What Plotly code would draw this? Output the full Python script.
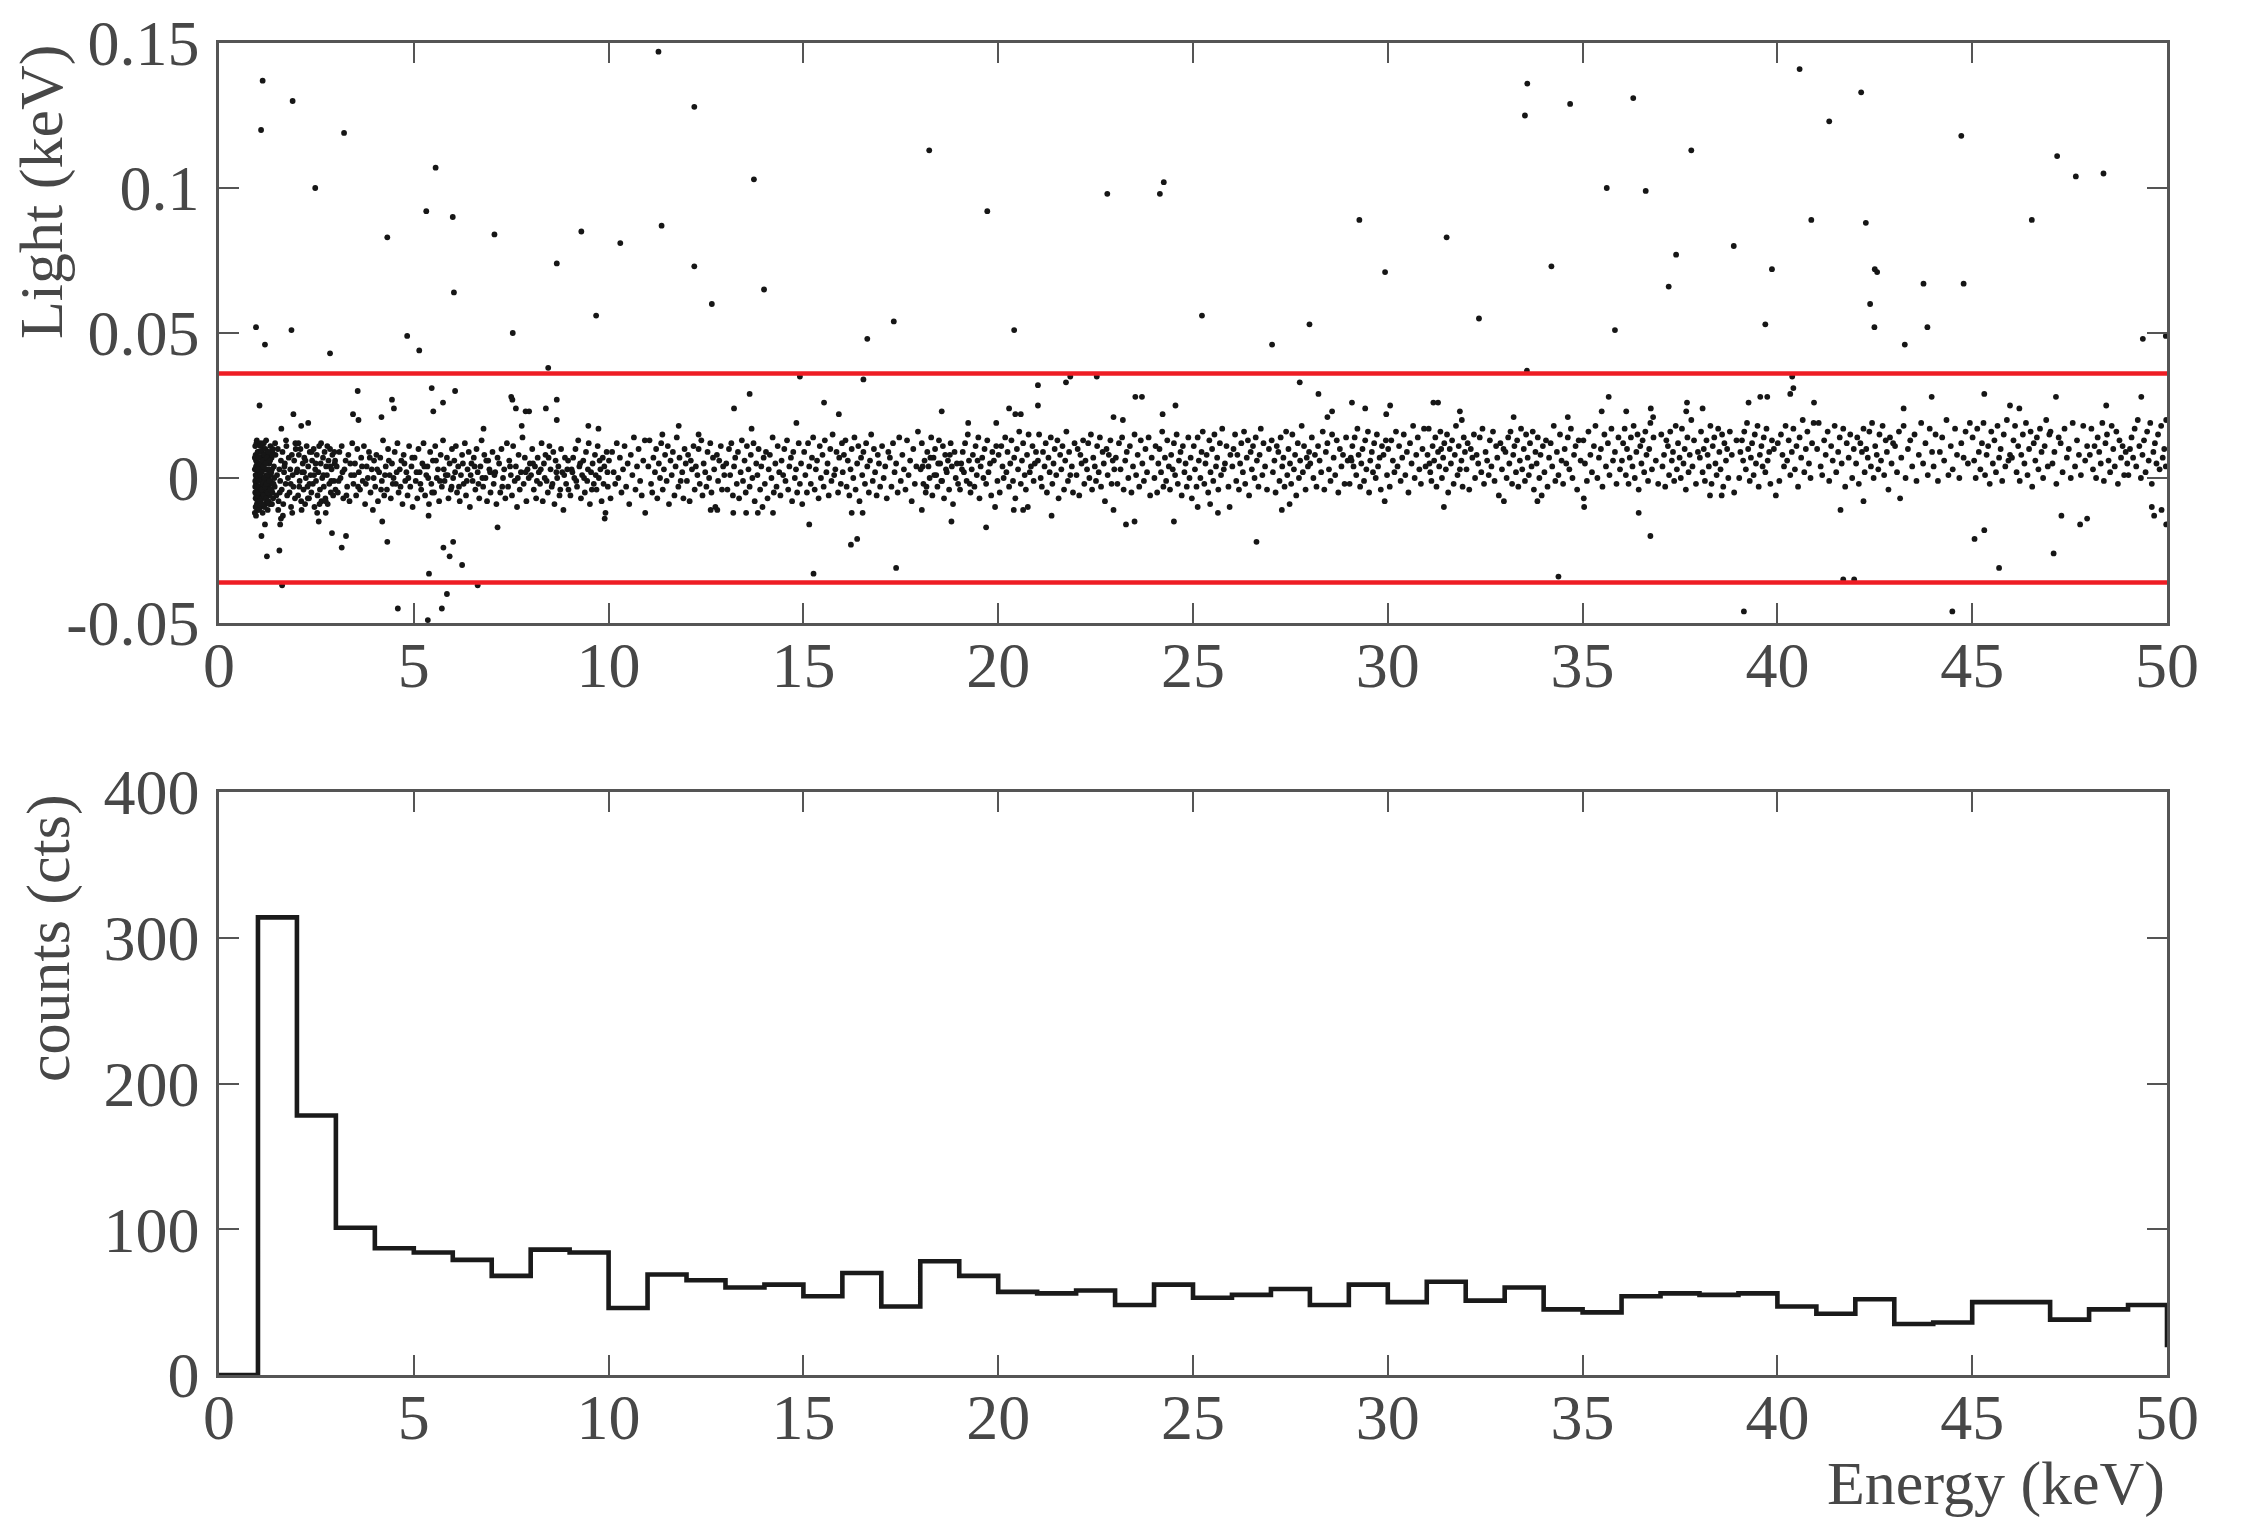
import plotly.graph_objects as go

# ---------------- histogram (counts per 1 keV bin) ----------------
energy_bin_edges = [0, 1, 2, 3, 4, 5, 6, 7, 8, 9, 10, 11, 12, 13, 14, 15, 16, 17, 18, 19, 20,
                    21, 22, 23, 24, 25, 26, 27, 28, 29, 30, 31, 32, 33, 34, 35, 36, 37, 38, 39, 40,
                    41, 42, 43, 44, 45, 46, 47, 48, 49, 50]
counts = [0, 314, 178, 101, 87, 84, 79, 68, 86, 84,
          46, 69, 65, 60, 62, 54, 70, 47, 78, 68,
          57, 56, 58, 48, 62, 53, 55, 59, 48, 62,
          50, 64, 51, 60, 45, 43, 54, 56, 55, 56,
          47, 42, 52, 35, 36, 50, 50, 38, 45, 48]
counts_tail = 19   # value plotted at the 50 keV edge

light_cut_keV = 0.036

x_ticks = [0, 5, 10, 15, 20, 25, 30, 35, 40, 45, 50]
light_ticks = [-0.05, 0, 0.05, 0.1, 0.15]
light_tick_text = ["-0.05", "0", "0.05", "0.1", "0.15"]
count_ticks = [0, 100, 200, 300, 400]

# ---------------- scatter: (energy keV, light eV) ----------------
band_01_03 = [
    (0.92,3),(0.93,-5),(0.94,8),(0.95,-2),(0.93,11),(0.96,0),(0.97,-9),(0.92,-12),(0.95,6),(0.98,-4),(0.99,2),(0.94,-7),(0.96,12),(0.97,4),(0.98,-11),(0.93,-1),(0.99,9),(0.95,-13),(0.96,-6),(0.94,1),(0.97,13),(0.92,7),(0.98,5),(0.99,-8),(0.93,-3),(0.95,4),(0.97,-3),(0.99,-6),(0.94,-10),
    (1.00,1),(1.01,-6),(1.02,9),(1.03,-3),(1.04,5),(1.05,-10),(1.06,2),(1.07,12),(1.08,-7),(1.09,0),
    (1.10,7),(1.11,-2),(1.12,-12),(1.13,4),(1.14,10),(1.15,-5),(1.16,-1),(1.17,8),(1.18,-9),(1.19,3),
    (1.20,-4),(1.21,13),(1.22,1),(1.23,-8),(1.24,6),(1.25,-11),(1.26,0),(1.27,9),(1.28,-3),(1.29,5),
    (1.30,-6),(1.31,2),(1.32,11),(1.33,-1),(1.34,-9),(1.35,7),(1.36,3),(1.37,-5),(1.38,10),(1.39,-2),
    (1.00,-3),(1.02,4),(1.04,-8),(1.06,11),(1.08,3),(1.10,-5),(1.12,6),(1.14,-1),(1.16,-10),(1.18,8),
    (1.01,7),(1.03,-11),(1.05,2),(1.07,-4),(1.09,9),(1.11,-7),(1.13,0),(1.15,12),(1.17,-3),(1.19,5),
    (1.21,-6),(1.23,3),(1.25,8),(1.27,-2),(1.29,-9),(1.31,6),(1.33,1),(1.35,-4),(1.37,9),(1.39,-7),
    (1.41,4),(1.43,-3),(1.45,8),(1.47,-6),(1.49,1),(1.51,10),(1.53,-8),(1.55,3),(1.57,-1),(1.59,6),
    (1.61,-4),(1.63,9),(1.65,-9),(1.67,2),(1.69,5),(1.71,-2),(1.73,11),(1.75,-6),(1.77,0),(1.79,7),
    (1.81,-5),(1.83,3),(1.85,-10),(1.87,8),(1.89,1),(1.91,-3),(1.93,6),(1.95,-7),(1.97,10),(1.99,2),
    (1.44,12),(1.52,-11),(1.64,-13),(1.72,13),(1.88,-12),(1.96,12),(1.42,0),(1.56,-5),(1.68,4),(1.84,-2),
    (1.00,-5),(1.01,3),(1.02,-1),(1.03,7),(1.04,-3),(1.05,5),(1.06,-8),(1.07,1),(1.08,9),(1.09,-4),
    (1.10,2),(1.11,-9),(1.12,6),(1.13,-2),(1.14,4),(1.15,-6),(1.16,8),(1.17,0),(1.18,-3),(1.19,10),
    (1.20,5),(1.21,-7),(1.22,-2),(1.23,7),(1.24,1),(1.25,-5),(1.26,9),(1.27,-8),(1.28,3),(1.29,-1),
    (1.30,6),(1.32,-4),(1.34,2),(1.36,-9),(1.38,8),(1.40,-2),
    (2.01,3),(2.03,-6),(2.05,8),(2.07,-1),(2.09,10),(2.11,-8),(2.13,2),(2.15,5),(2.17,-4),(2.19,7),
    (2.21,-9),(2.23,0),(2.25,11),(2.27,-3),(2.29,4),(2.31,-7),(2.33,9),(2.35,1),(2.37,-5),(2.39,6),
    (2.41,-2),(2.43,10),(2.45,-10),(2.47,3),(2.49,-1),(2.51,8),(2.53,-6),(2.55,2),(2.57,11),(2.59,-4),
    (2.61,5),(2.63,-8),(2.65,0),(2.67,7),(2.69,-3),(2.71,9),(2.73,-7),(2.75,4),(2.77,1),(2.79,-9),
    (2.81,6),(2.83,-2),(2.85,10),(2.87,-5),(2.89,3),(2.91,8),(2.93,-6),(2.95,-1),(2.97,5),(2.99,-4),
    (2.04,12),(2.12,-11),(2.22,6),(2.32,-2),(2.44,1),(2.52,-12),(2.62,12),(2.74,-8),(2.86,4),(2.96,9),
    (2.06,-3),(2.18,2),(2.28,-7),(2.38,9),(2.48,5),(2.58,-9),(2.68,1),(2.78,11),(2.88,-1),(2.98,6),
]

band_03_10 = [
    (3.02,4),(3.05,-5),(3.09,9),(3.12,0),(3.15,11),(3.19,-7),(3.22,3),(3.25,6),(3.29,-3),(3.32,8),(3.35,-8),(3.39,1),(3.42,12),(3.45,-2),(3.49,5),(3.52,-6),(3.55,10),(3.59,2),(3.62,-4),(3.65,7),(3.69,-1),(3.72,11),(3.75,-9),(3.79,4),(3.82,0),(3.85,9),(3.89,-5),(3.92,3),(3.95,-11),(3.98,6),(3.07,-1),(3.17,2),(3.27,-6),(3.37,5),(3.47,1),(3.57,-3),(3.67,4),(3.77,-2),(3.87,7),(3.97,0),
    (4.01,-3),(4.04,8),(4.08,-8),(4.11,2),(4.14,7),(4.18,-1),(4.21,13),(4.24,-6),(4.28,4),(4.31,-4),(4.34,10),(4.38,1),(4.41,-7),(4.44,5),(4.48,0),(4.51,9),(4.54,-2),(4.58,12),(4.61,-5),(4.64,3),(4.68,6),(4.71,-9),(4.74,8),(4.78,-1),(4.81,2),(4.84,-6),(4.88,11),(4.91,-3),(4.94,4),(4.97,-10),(4.06,3),(4.16,-4),(4.26,1),(4.36,6),(4.46,-2),(4.56,2),(4.66,-3),(4.76,5),(4.86,0),(4.96,7),
    (5.02,7),(5.05,-1),(5.09,-7),(5.12,10),(5.15,2),(5.19,-4),(5.22,5),(5.25,12),(5.29,-6),(5.32,1),(5.35,4),(5.39,-9),(5.42,9),(5.45,-2),(5.49,6),(5.52,-5),(5.55,11),(5.59,0),(5.62,3),(5.65,-8),(5.69,8),(5.72,-3),(5.75,13),(5.79,-1),(5.82,1),(5.85,7),(5.89,-7),(5.92,5),(5.95,-4),(5.98,10),(5.07,2),(5.17,-2),(5.27,4),(5.37,0),(5.47,-5),(5.57,6),(5.67,-1),(5.77,3),(5.87,1),(5.97,-3),
    (6.01,0),(6.04,6),(6.08,11),(6.11,-5),(6.14,4),(6.18,-8),(6.21,1),(6.24,8),(6.28,-2),(6.31,12),(6.34,-6),(6.38,3),(6.41,9),(6.44,-10),(6.48,5),(6.51,-1),(6.54,7),(6.58,-4),(6.61,10),(6.64,2),(6.68,-7),(6.71,4),(6.74,13),(6.78,-3),(6.81,8),(6.84,0),(6.88,-8),(6.91,6),(6.94,3),(6.97,-5),(6.06,2),(6.16,-3),(6.26,5),(6.36,-1),(6.46,1),(6.56,4),(6.66,-2),(6.76,0),(6.86,6),(6.96,2),
    (7.02,9),(7.05,-2),(7.09,2),(7.12,-9),(7.15,7),(7.19,5),(7.22,-5),(7.25,10),(7.29,0),(7.32,3),(7.35,-7),(7.39,12),(7.42,-3),(7.45,6),(7.49,1),(7.52,-6),(7.55,11),(7.59,-1),(7.62,4),(7.65,-10),(7.69,8),(7.72,-4),(7.75,2),(7.79,14),(7.82,-2),(7.85,7),(7.89,-8),(7.92,3),(7.95,0),(7.98,5),(7.07,1),(7.27,-3),(7.47,4),(7.67,0),(7.87,2),
    (8.01,1),(8.04,10),(8.08,-4),(8.11,4),(8.14,-7),(8.18,7),(8.21,2),(8.24,-2),(8.28,12),(8.31,-8),(8.34,5),(8.38,8),(8.41,-1),(8.44,-5),(8.48,11),(8.51,3),(8.54,-3),(8.58,9),(8.61,-9),(8.64,6),(8.68,0),(8.71,4),(8.74,-6),(8.78,10),(8.81,2),(8.84,-11),(8.88,7),(8.91,-2),(8.94,3),(8.97,-4),(8.06,5),(8.16,-1),(8.26,3),(8.36,0),(8.46,7),(8.56,-2),(8.66,2),(8.76,-4),(8.86,1),(8.96,6),
    (9.02,-6),(9.05,3),(9.09,7),(9.12,0),(9.15,10),(9.19,-3),(9.22,13),(9.25,4),(9.29,-7),(9.32,1),(9.35,6),(9.39,-5),(9.42,9),(9.45,-1),(9.49,12),(9.52,-9),(9.55,2),(9.59,5),(9.62,-2),(9.65,8),(9.69,-4),(9.72,11),(9.75,0),(9.79,3),(9.82,-8),(9.85,7),(9.89,4),(9.92,-12),(9.95,9),(9.98,-3),(9.07,2),(9.17,-1),(9.27,5),(9.37,0),(9.47,3),(9.57,-4),(9.67,1),(9.77,6),(9.87,-2),(9.97,2),
]

band_10_20 = [
    (10.01,6),(10.05,-7),(10.09,9),(10.13,2),(10.17,-2),(10.21,12),(10.25,0),(10.29,7),(10.33,-5),(10.37,3),(10.41,11),(10.45,-3),(10.49,5),(10.53,-9),(10.57,8),(10.61,1),(10.65,14),(10.69,-4),(10.73,4),(10.77,10),(10.81,-1),(10.85,-6),(10.89,6),(10.93,13),
    (11.02,4),(11.05,13),(11.09,-2),(11.12,-5),(11.15,7),(11.19,2),(11.22,10),(11.25,-7),(11.29,5),(11.32,0),(11.35,12),(11.39,-4),(11.42,3),(11.45,8),(11.49,-1),(11.52,11),(11.55,-9),(11.59,6),(11.62,1),(11.65,9),(11.69,-6),(11.72,4),(11.75,14),(11.79,-3),(11.82,7),(11.85,-1),(11.89,2),(11.92,-7),(11.95,10),(11.98,5),
    (12.01,-1),(12.04,8),(12.08,-8),(12.11,6),(12.14,3),(12.18,11),(12.21,-4),(12.24,4),(12.28,1),(12.31,10),(12.34,-2),(12.38,13),(12.41,-6),(12.44,5),(12.48,2),(12.51,-3),(12.54,9),(12.58,0),(12.61,12),(12.64,-5),(12.68,7),(12.71,3),(12.74,-10),(12.78,8),(12.81,-1),(12.84,6),(12.88,11),(12.91,-4),(12.94,4),(12.97,1),
    (13.02,5),(13.05,-4),(13.09,10),(13.12,1),(13.15,12),(13.19,-6),(13.22,4),(13.25,7),(13.29,-2),(13.32,9),(13.35,-7),(13.39,2),(13.42,13),(13.45,-1),(13.49,6),(13.52,-5),(13.55,11),(13.59,3),(13.62,-3),(13.65,8),(13.69,0),(13.72,12),(13.75,-8),(13.79,5),(13.82,1),(13.85,10),(13.89,-4),(13.92,4),(13.95,-10),(13.98,7),
    (14.01,-2),(14.04,9),(14.08,-7),(14.11,3),(14.14,8),(14.18,0),(14.21,14),(14.24,-5),(14.28,5),(14.31,-3),(14.34,11),(14.38,2),(14.41,-6),(14.44,6),(14.48,1),(14.51,10),(14.54,-1),(14.58,13),(14.61,-4),(14.64,4),(14.68,7),(14.71,-8),(14.74,9),(14.78,0),(14.81,3),(14.84,-5),(14.88,12),(14.91,-2),(14.94,5),(14.97,-9),
    (15.02,9),(15.05,1),(15.09,-5),(15.12,12),(15.15,4),(15.19,-2),(15.22,7),(15.25,14),(15.29,-4),(15.32,3),(15.35,6),(15.39,-7),(15.42,11),(15.45,0),(15.49,8),(15.52,-3),(15.55,13),(15.59,2),(15.62,5),(15.65,-6),(15.69,10),(15.72,-1),(15.75,15),(15.79,1),(15.82,3),(15.85,9),(15.89,-5),(15.92,7),(15.96,-2),(15.99,12),
    (16.01,2),(16.04,8),(16.08,13),(16.11,-3),(16.14,6),(16.18,-6),(16.21,3),(16.24,10),(16.28,0),(16.31,14),(16.34,-4),(16.38,5),(16.41,11),(16.44,-8),(16.48,7),(16.51,1),(16.54,9),(16.58,-2),(16.61,12),(16.64,4),(16.68,-5),(16.71,6),(16.74,15),(16.78,-1),(16.81,10),(16.84,2),(16.88,-6),(16.91,8),(16.94,5),(16.97,-3),
    (17.02,11),(17.06,0),(17.10,4),(17.14,-7),(17.18,9),(17.22,7),(17.26,-3),(17.30,12),(17.34,2),(17.38,5),(17.42,-5),(17.46,14),(17.50,-1),(17.54,8),(17.58,3),(17.62,-4),(17.66,13),(17.70,1),(17.74,6),(17.78,-8),(17.82,10),(17.86,-2),(17.90,4),(17.94,16),
    (18.01,3),(18.04,12),(18.08,-2),(18.11,6),(18.14,-5),(18.18,9),(18.21,4),(18.24,0),(18.28,14),(18.31,-6),(18.34,7),(18.38,10),(18.41,1),(18.44,-3),(18.48,13),(18.51,5),(18.54,-1),(18.58,11),(18.61,-7),(18.64,8),(18.68,2),(18.71,6),(18.74,-4),(18.78,12),(18.81,4),(18.84,-9),(18.88,9),(18.91,0),(18.94,5),(18.97,-2),(18.06,4),(18.16,-3),(18.26,7),(18.36,1),(18.46,5),(18.56,-1),(18.66,3),(18.76,8),
    (19.02,-4),(19.05,5),(19.09,9),(19.12,2),(19.15,12),(19.19,-1),(19.22,15),(19.25,6),(19.29,-5),(19.32,3),(19.35,8),(19.39,-3),(19.42,11),(19.45,1),(19.49,14),(19.52,-7),(19.55,4),(19.59,7),(19.62,0),(19.65,10),(19.69,-2),(19.72,13),(19.75,2),(19.79,5),(19.82,-6),(19.85,9),(19.89,6),(19.92,-10),(19.95,11),(19.98,-1),(19.07,3),(19.27,-2),(19.47,6),
]

band_20_30 = [
    (20.01,8),(20.04,-5),(20.08,11),(20.11,4),(20.14,0),(20.18,14),(20.21,2),(20.24,9),(20.28,-3),(20.31,5),(20.34,13),(20.38,-1),(20.41,7),(20.44,-7),(20.48,10),(20.51,3),(20.54,16),(20.58,-2),(20.61,6),(20.64,12),(20.68,1),(20.71,-4),(20.74,8),(20.78,15),(20.81,2),(20.84,4),(20.88,11),(20.91,-1),(20.94,5),(20.97,9),
    (21.02,6),(21.05,15),(21.09,0),(21.12,-3),(21.15,9),(21.19,4),(21.22,12),(21.25,-5),(21.29,7),(21.32,2),(21.35,14),(21.39,-2),(21.42,5),(21.45,10),(21.49,1),(21.52,13),(21.55,-7),(21.59,8),(21.62,3),(21.65,11),(21.69,-4),(21.72,6),(21.75,16),(21.79,-1),(21.82,9),(21.85,1),(21.89,4),(21.92,-5),(21.96,12),
    (22.01,1),(22.04,10),(22.08,-6),(22.11,8),(22.14,5),(22.18,13),(22.21,-2),(22.24,6),(22.28,3),(22.31,12),(22.34,0),(22.38,15),(22.41,-4),(22.44,7),(22.48,4),(22.51,-1),(22.54,11),(22.58,2),(22.61,14),(22.64,-3),(22.68,9),(22.71,5),(22.74,-8),(22.78,10),(22.81,1),(22.84,8),(22.88,13),(22.91,-2),(22.94,6),(22.98,3),
    (23.02,7),(23.06,-2),(23.10,12),(23.14,3),(23.18,14),(23.22,-4),(23.26,6),(23.30,9),(23.34,0),(23.38,11),(23.42,-5),(23.46,4),(23.50,15),(23.54,1),(23.58,8),(23.62,-3),(23.66,13),(23.70,5),(23.74,-1),(23.78,10),(23.82,2),(23.86,14),(23.90,-6),(23.94,7),
    (24.01,0),(24.04,11),(24.08,-5),(24.11,5),(24.14,10),(24.18,2),(24.21,16),(24.24,-3),(24.28,7),(24.31,-1),(24.34,13),(24.38,4),(24.41,-4),(24.44,8),(24.48,3),(24.51,12),(24.54,1),(24.58,15),(24.61,-2),(24.64,6),(24.68,9),(24.71,-6),(24.74,11),(24.78,2),(24.81,5),(24.84,-3),(24.88,14),(24.91,0),(24.94,7),(24.97,-7),
    (25.02,11),(25.05,3),(25.09,-3),(25.12,14),(25.15,6),(25.19,0),(25.22,9),(25.25,16),(25.29,-2),(25.32,5),(25.35,8),(25.39,-5),(25.42,13),(25.45,2),(25.49,10),(25.52,-1),(25.55,15),(25.59,4),(25.62,7),(25.65,-4),(25.69,12),(25.72,1),(25.75,17),(25.79,3),(25.82,5),(25.86,11),(25.91,-3),(25.96,8),
    (26.01,4),(26.04,10),(26.08,15),(26.11,-1),(26.14,8),(26.18,-4),(26.21,5),(26.24,12),(26.28,2),(26.31,16),(26.34,-2),(26.38,7),(26.41,13),(26.44,-6),(26.48,9),(26.51,3),(26.54,11),(26.58,0),(26.61,14),(26.64,6),(26.68,-3),(26.71,8),(26.74,17),(26.78,1),(26.81,12),(26.85,4),(26.90,-4),(26.95,10),
    (27.02,13),(27.05,2),(27.09,6),(27.12,-5),(27.15,11),(27.19,9),(27.22,-1),(27.25,14),(27.29,4),(27.32,7),(27.35,-3),(27.39,16),(27.42,1),(27.45,10),(27.49,5),(27.52,-2),(27.55,15),(27.59,3),(27.62,8),(27.65,-6),(27.69,12),(27.72,0),(27.75,6),(27.79,18),(27.82,2),(27.85,11),(27.89,-4),(27.92,7),(27.95,4),(27.98,9),
    (28.01,5),(28.05,14),(28.09,0),(28.13,8),(28.17,-3),(28.21,11),(28.25,6),(28.29,2),(28.33,16),(28.37,-4),(28.41,9),(28.45,12),(28.49,3),(28.53,-1),(28.57,15),(28.61,7),(28.65,1),(28.69,13),(28.73,-5),(28.77,10),(28.81,4),(28.85,8),(28.89,-2),(28.93,14),(28.97,6),
    (29.02,-2),(29.05,7),(29.09,11),(29.12,4),(29.15,14),(29.19,1),(29.22,17),(29.25,8),(29.29,-3),(29.32,5),(29.35,10),(29.39,-1),(29.42,13),(29.45,3),(29.49,16),(29.52,-5),(29.55,6),(29.59,9),(29.62,2),(29.65,12),(29.69,0),(29.72,15),(29.75,4),(29.79,7),(29.82,-4),(29.85,11),(29.89,8),(29.92,-8),(29.95,13),(29.98,1),(29.07,6),
]

band_30_40 = [
    (30.01,10),(30.05,-3),(30.09,13),(30.13,6),(30.17,2),(30.21,16),(30.25,4),(30.29,11),(30.33,-1),(30.37,7),(30.41,15),(30.45,1),(30.49,9),(30.53,-5),(30.57,12),(30.61,5),(30.65,18),(30.69,0),(30.73,8),(30.77,14),(30.81,3),(30.85,-2),(30.89,10),(30.93,17),(30.97,4),
    (31.02,8),(31.05,17),(31.09,2),(31.12,-1),(31.15,11),(31.19,6),(31.22,14),(31.25,-3),(31.29,9),(31.32,4),(31.35,16),(31.39,0),(31.42,7),(31.45,12),(31.49,3),(31.52,15),(31.55,-5),(31.59,10),(31.62,5),(31.65,13),(31.69,-2),(31.72,8),(31.75,18),(31.79,1),(31.82,11),(31.85,3),(31.89,6),(31.92,-3),(31.95,14),(31.98,9),(31.07,5),(31.37,10),
    (32.02,3),(32.05,12),(32.09,-4),(32.13,10),(32.17,7),(32.21,15),(32.24,0),(32.28,8),(32.32,5),(32.36,14),(32.40,2),(32.43,17),(32.47,-2),(32.51,9),(32.55,6),(32.59,1),(32.62,13),(32.66,4),(32.70,16),(32.74,-1),(32.78,11),(32.81,7),(32.85,-6),(32.89,12),(32.93,3),(32.97,10),
    (33.02,9),(33.05,0),(33.09,14),(33.12,5),(33.15,16),(33.19,-2),(33.22,8),(33.25,11),(33.29,2),(33.32,13),(33.35,-3),(33.39,6),(33.42,17),(33.45,3),(33.49,10),(33.52,-1),(33.55,15),(33.59,7),(33.62,1),(33.65,12),(33.69,4),(33.72,16),(33.75,-4),(33.79,9),(33.82,5),(33.85,14),(33.89,0),(33.92,8),(33.95,-6),(33.98,11),
    (34.02,2),(34.06,13),(34.10,-3),(34.14,7),(34.18,12),(34.22,4),(34.26,18),(34.30,-1),(34.34,9),(34.38,1),(34.42,15),(34.46,6),(34.50,-2),(34.54,10),(34.58,5),(34.62,14),(34.66,3),(34.70,17),(34.74,0),(34.78,8),(34.82,11),(34.86,-4),(34.90,13),(34.95,6),
    (35.02,13),(35.06,5),(35.11,-1),(35.15,16),(35.20,8),(35.24,2),(35.29,11),(35.33,18),(35.38,0),(35.42,7),(35.47,10),(35.51,-3),(35.56,15),(35.60,4),(35.65,12),(35.69,1),(35.74,17),(35.78,6),(35.83,9),(35.87,-2),(35.92,14),(35.96,3),
    (36.01,6),(36.04,12),(36.08,17),(36.11,1),(36.14,10),(36.18,-2),(36.21,7),(36.24,14),(36.28,4),(36.31,18),(36.34,0),(36.38,9),(36.41,15),(36.44,-4),(36.48,11),(36.51,5),(36.54,13),(36.58,2),(36.61,16),(36.64,8),(36.68,-1),(36.71,10),(36.74,19),(36.78,3),(36.82,14),(36.88,6),(36.94,-2),
    (37.02,15),(37.05,4),(37.09,8),(37.12,-3),(37.15,13),(37.19,11),(37.22,1),(37.25,16),(37.29,6),(37.32,9),(37.35,-1),(37.39,18),(37.42,3),(37.45,12),(37.49,7),(37.52,0),(37.55,17),(37.59,5),(37.62,10),(37.65,-4),(37.69,14),(37.72,2),(37.75,8),(37.79,20),(37.82,4),(37.86,13),(37.91,-2),(37.96,9),
    (38.01,7),(38.04,16),(38.08,2),(38.11,10),(38.14,-1),(38.18,13),(38.21,8),(38.24,4),(38.28,18),(38.31,-2),(38.34,11),(38.38,14),(38.41,5),(38.44,1),(38.48,17),(38.51,9),(38.54,3),(38.58,15),(38.61,-3),(38.64,12),(38.68,6),(38.71,10),(38.74,0),(38.78,16),(38.83,8),(38.89,-5),(38.95,13),
    (39.02,0),(39.05,9),(39.09,13),(39.12,6),(39.15,16),(39.19,3),(39.22,19),(39.25,10),(39.29,-1),(39.32,7),(39.35,12),(39.39,1),(39.42,15),(39.45,5),(39.49,18),(39.52,-3),(39.55,8),(39.59,11),(39.62,4),(39.65,14),(39.69,2),(39.72,17),(39.75,6),(39.79,9),(39.82,-2),(39.86,13),(39.91,10),(39.96,-6),
]

band_40_50 = [
    (40.01,12),(40.05,-1),(40.09,15),(40.13,8),(40.17,4),(40.21,18),(40.25,6),(40.29,13),(40.33,1),(40.37,9),(40.41,17),(40.45,3),(40.49,11),(40.53,-3),(40.57,14),(40.61,7),(40.65,20),(40.69,2),(40.73,10),(40.77,16),(40.81,5),(40.85,0),(40.89,12),(40.93,19),
    (41.02,10),(41.06,19),(41.11,4),(41.15,1),(41.20,13),(41.24,8),(41.29,16),(41.33,-1),(41.38,11),(41.42,6),(41.47,18),(41.51,2),(41.56,9),(41.60,14),(41.65,5),(41.69,17),(41.74,-3),(41.78,12),(41.83,7),(41.87,15),(41.92,0),(41.96,10),
    (42.02,5),(42.05,14),(42.09,-2),(42.13,12),(42.17,9),(42.21,17),(42.24,2),(42.28,10),(42.32,7),(42.36,16),(42.40,4),(42.43,19),(42.47,0),(42.51,11),(42.55,8),(42.59,3),(42.62,15),(42.66,6),(42.70,18),(42.74,1),(42.78,13),(42.81,9),(42.85,-4),(42.89,14),(42.93,5),(42.97,12),
    (43.02,11),(43.07,2),(43.12,16),(43.18,7),(43.24,18),(43.29,0),(43.35,10),(43.41,13),(43.46,4),(43.52,15),(43.57,-1),(43.63,8),(43.69,19),(43.74,5),(43.80,12),(43.86,1),(43.91,17),(43.97,9),
    (44.01,4),(44.06,15),(44.12,-1),(44.17,9),(44.23,14),(44.28,6),(44.34,20),(44.39,1),(44.45,11),(44.50,3),(44.56,17),(44.61,8),(44.67,0),(44.72,12),(44.78,7),(44.83,16),(44.89,5),(44.94,19),
    (45.01,14),(45.05,6),(45.09,0),(45.13,17),(45.17,9),(45.21,3),(45.25,12),(45.29,19),(45.33,1),(45.37,8),(45.41,11),(45.45,-2),(45.49,16),(45.53,5),(45.57,13),(45.61,2),(45.65,18),(45.69,7),(45.73,10),(45.77,-1),(45.81,15),(45.85,4),(45.89,20),(45.93,6),(45.97,8),
    (46.02,7),(46.06,13),(46.10,18),(46.14,2),(46.18,11),(46.22,-1),(46.26,8),(46.30,15),(46.34,5),(46.38,19),(46.42,1),(46.46,10),(46.50,16),(46.54,-3),(46.58,12),(46.62,6),(46.66,14),(46.70,3),(46.74,17),(46.78,9),(46.82,0),(46.86,11),(46.90,20),(46.94,4),(46.98,15),
    (47.01,16),(47.06,5),(47.11,9),(47.16,-2),(47.22,14),(47.27,12),(47.32,2),(47.37,17),(47.43,7),(47.48,10),(47.53,0),(47.58,19),(47.64,4),(47.69,13),(47.74,8),(47.79,1),(47.85,18),(47.90,6),(47.95,11),
    (48.02,8),(48.06,17),(48.10,3),(48.14,11),(48.18,0),(48.22,14),(48.26,9),(48.30,5),(48.34,19),(48.38,-1),(48.42,12),(48.46,15),(48.50,6),(48.54,2),(48.58,18),(48.62,10),(48.66,4),(48.70,16),(48.74,-2),(48.78,13),(48.82,7),(48.86,11),(48.90,1),(48.94,9),(48.98,5),
    (49.01,1),(49.05,10),(49.09,14),(49.13,7),(49.17,17),(49.21,4),(49.25,20),(49.29,11),(49.33,0),(49.37,8),(49.41,13),(49.45,2),(49.49,16),(49.53,6),(49.57,19),(49.61,-2),(49.65,9),(49.69,12),(49.73,5),(49.77,15),(49.81,3),(49.85,18),(49.89,7),(49.93,10),(49.97,4),
]

# events away from the band (read individually)
sparse_points = [
    (1.12,137),(1.89,130),(1.08,120),(3.21,119),(11.28,147),(12.20,128),(5.56,107),(2.47,100),(5.32,92),(6.00,90),(4.32,83),(7.07,84),(9.30,85),(10.30,81),(11.36,87),(8.67,74),(12.20,73),(6.03,64),(9.68,56),(0.95,52),(1.86,51),(1.18,46),(4.83,49),(2.85,43),(5.14,44),(7.54,50),(8.45,38),
    (1.62,-37),(6.64,-37),(4.59,-45),(5.85,-40),(5.72,-45),(5.36,-49),(5.39,-33),
    (3.56,30),(5.46,31),(6.06,30),(7.50,28),(7.53,27),(8.67,27),(1.04,25),(4.44,27),(4.49,24),(5.75,26),(5.50,23),(7.62,24),(7.87,23),(7.96,23),(8.39,24),(8.67,20),(1.91,22),(3.44,22),(3.58,20),(4.17,21),(2.29,19),(2.11,18),(1.60,17),(7.77,18),(9.48,18),(9.74,17),(6.79,17),(11.80,18),(11.38,15),(12.31,15),
    (1.09,-20),(1.23,-27),(1.55,-25),(2.56,-15),(2.74,-12),(2.90,-19),(3.26,-20),(3.15,-24),(4.19,-15),(4.32,-22),(5.38,-13),(5.76,-24),(6.01,-22),(5.92,-27),(6.24,-30),(7.15,-17),(9.90,-14),(10.94,-12),(1.59,-14),(1.57,-16),(1.18,-16),
    (13.73,103),(18.23,113),(19.72,92),(22.80,98),(24.15,98),(24.25,102),(13.99,65),(12.65,60),(17.32,54),(16.64,48),(20.41,51),(14.91,35),(16.54,34),(21.02,32),(21.74,33),(21.85,35),(22.53,35),
    (23.52,28),(23.69,28),(13.62,29),(15.53,26),(13.22,24),(15.91,22),(21.02,25),(20.28,24),(20.44,22),(20.58,22),(24.55,25),(24.22,22),(18.55,23),(14.82,19),(13.67,17),(22.96,21),(23.20,20),(19.23,19),(19.95,19),
    (15.26,-33),(17.38,-31),(16.22,-23),(16.38,-21),(15.15,-16),(16.24,-12),(16.52,-12),(18.80,-15),(19.69,-17),(21.37,-13),(23.28,-16),(23.50,-15),(24.51,-15),(12.62,-11),(12.79,-11),(13.20,-12),(13.53,-12),(13.83,-12),(14.22,-12),(18.04,-11),(20.40,-11),(20.64,-11),(20.76,-10),(22.96,-11),
    (33.58,136),(33.52,125),(34.68,129),(36.30,131),(35.62,100),(36.62,99),(29.27,89),(31.51,83),(29.93,71),(34.20,73),(37.40,77),(37.21,66),(25.23,56),(27.99,53),(27.03,46),(32.34,55),(35.83,51),(33.57,37),
    (27.74,33),(28.22,29),(35.67,28),(29.08,26),(30.06,25),(31.17,26),(31.29,26),(37.68,26),(28.57,23),(28.45,21),(29.42,24),(31.85,23),(31.90,20),(36.75,24),(36.81,21),(35.49,23),(36.12,23),(34.62,21),(33.23,21),(29.96,22),(37.66,23),
    (26.63,-22),(34.38,-34),(36.74,-20),(36.44,-12),(35.04,-10),(35.03,-7),(25.12,-10),(25.44,-9),(25.64,-12),(25.94,-10),(27.28,-11),(27.48,-9),(31.44,-10),(32.98,-8),(33.84,-8),
    (40.57,141),(42.15,133),(41.33,123),(44.72,118),(37.79,113),(47.18,111),(47.66,104),(48.37,105),(40.87,89),(42.27,88),(46.53,89),(38.88,80),(39.86,72),(42.50,72),(42.56,71),(43.75,67),(44.78,67),(42.38,60),(39.69,53),(42.49,52),(43.85,52),(43.27,46),(49.38,48),(49.97,49),
    (40.38,35),(40.41,31),(40.33,29),(39.26,26),(39.56,28),(39.74,28),(40.94,26),(43.96,28),(45.31,29),(47.15,28),(49.34,28),(43.24,24),(48.44,25),(45.97,25),(46.21,24),(38.08,24),(49.98,20),
    (39.14,-46),(44.49,-46),(41.69,-35),(41.97,-35),(45.69,-31),(47.09,-26),(45.06,-21),(45.31,-18),(47.29,-13),(47.77,-16),(47.95,-14),(49.61,-10),(49.67,-13),(49.86,-11),(49.98,-16),(41.62,-11),(42.21,-8),(43.15,-7),(38.57,-6),(38.27,-6),
]

# ---------------- build figure ----------------
events = band_01_03 + band_03_10 + band_10_20 + band_20_30 + band_30_40 + band_40_50 + sparse_points
energy_keV = [e for e, _ in events]
light_keV = [l / 1000.0 for _, l in events]

FONT = "Liberation Serif, Times New Roman, serif"
TXT = "#474747"
AX = "#555555"

fig = go.Figure()
fig.add_trace(go.Scatter(x=energy_keV, y=light_keV, mode="markers",
                         marker=dict(size=5.8, color="#161616", line=dict(width=0)),
                         xaxis="x", yaxis="y", hoverinfo="skip"))
for c in (light_cut_keV, -light_cut_keV):
    fig.add_trace(go.Scatter(x=[energy_bin_edges[0], energy_bin_edges[-1]], y=[c, c], mode="lines",
                             line=dict(color="#ee1d24", width=4.5), xaxis="x", yaxis="y"))
fig.add_trace(go.Scatter(x=energy_bin_edges, y=counts + [counts_tail], mode="lines",
                         line=dict(color="#1a1a1a", width=4.6, shape="hv"),
                         xaxis="x2", yaxis="y2"))

axis_common = dict(showline=True, linecolor=AX, linewidth=2.5, mirror="ticks",
                   ticks="inside", ticklen=20, tickwidth=2, tickcolor=AX,
                   showgrid=False, zeroline=False, automargin=False,
                   tickfont=dict(family=FONT, size=64, color=TXT))

xdom = [219 / 2246, 2167 / 2246]
fig.update_layout(
    width=2246, height=1534, margin=dict(l=0, r=0, t=0, b=0),
    paper_bgcolor="white", plot_bgcolor="white", showlegend=False,
    xaxis=dict(domain=xdom, range=[0, 50], tickvals=x_ticks, anchor="y", ticklabelstandoff=-16, **axis_common),
    yaxis=dict(domain=[1 - 623 / 1534, 1 - 43 / 1534], range=[-0.05, 0.15],
               tickvals=light_ticks, ticktext=light_tick_text, anchor="x", ticklabelstandoff=4, **axis_common),
    xaxis2=dict(domain=xdom, range=[0, 50], tickvals=x_ticks, anchor="y2", ticklabelstandoff=-16, **axis_common),
    yaxis2=dict(domain=[1 - 1375 / 1534, 1 - 792 / 1534], range=[0, 400],
                tickvals=count_ticks, anchor="x2", ticklabelstandoff=4, **axis_common),
    annotations=[
        dict(text="Light (keV)", x=42 / 2246, y=1 - 43 / 1534, xref="paper", yref="paper",
             xanchor="center", yanchor="top", textangle=-90, showarrow=False,
             font=dict(family=FONT, size=62, color=TXT)),
        dict(text="counts (cts)", x=48 / 2246, y=1 - 792 / 1534, xref="paper", yref="paper",
             xanchor="center", yanchor="top", textangle=-90, showarrow=False,
             font=dict(family=FONT, size=62, color=TXT)),
        dict(text="Energy (keV)", x=2167 / 2246, y=1 - 1483 / 1534, xref="paper", yref="paper",
             xanchor="right", yanchor="middle", showarrow=False,
             font=dict(family=FONT, size=62, color=TXT)),
    ],
)

fig.write_html("out.html")
